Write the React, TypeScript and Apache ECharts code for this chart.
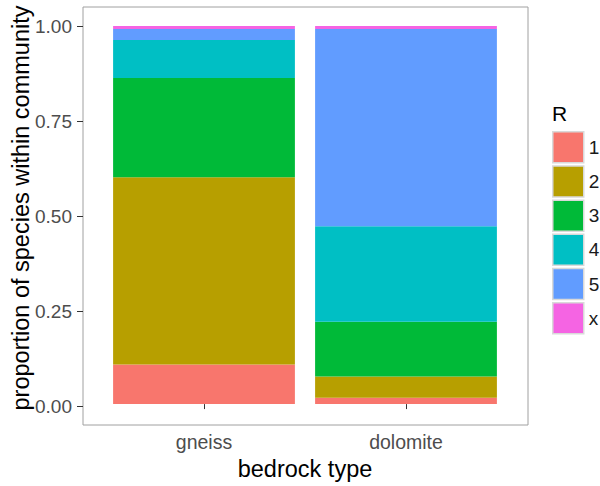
import React, { useEffect, useRef } from "react";
import * as echarts from "echarts";

const categories = ["gneiss", "dolomite"];
const seriesNames = ["1", "2", "3", "4", "5", "x"];
const r1 = [0.105, 0.017];
const r2 = [0.495, 0.056];
const r3 = [0.262, 0.145];
const r4 = [0.101, 0.252];
const r5 = [0.029, 0.522];
const rx = [0.008, 0.008];
const seriesValues = [r1, r2, r3, r4, r5, rx];
const colors = ["#F8766D", "#B79F00", "#00BA38", "#00BFC4", "#619CFF", "#F564E3"];
const yTicks = [0, 0.25, 0.5, 0.75, 1];

export default function App() {
  const ref = useRef<HTMLDivElement>(null);
  useEffect(() => {
    if (!ref.current) return;
    const chart = echarts.init(ref.current, null, { renderer: "svg" });
    const font = "Liberation Sans, Arial, sans-serif";
    chart.setOption({
      animation: false,
      backgroundColor: "#ffffff",
      textStyle: { fontFamily: font },
      grid: [
        { left: 103, top: 7, width: 404, height: 418, show: false },
        {
          left: 83,
          top: 7,
          width: 445,
          height: 418,
          show: true,
          borderColor: "#a0a0a0",
          borderWidth: 1,
          backgroundColor: "transparent",
        },
      ],
      xAxis: [
        {
          type: "category",
          gridIndex: 0,
          data: categories,
          axisLine: { show: false },
          axisTick: { show: true, alignWithLabel: true, length: 5, lineStyle: { color: "#333333" } },
          axisLabel: { fontSize: 19.5, color: "#4d4d4d", margin: 9, fontFamily: font },
          name: "bedrock type",
          nameLocation: "middle",
          nameGap: 34,
          nameTextStyle: { fontSize: 23.5, color: "#000000", fontFamily: font },
        },
        { type: "value", gridIndex: 1, show: false, min: 0, max: 1 },
      ],
      yAxis: [
        { type: "value", gridIndex: 0, show: false, min: -0.05, max: 1.05 },
        {
          type: "value",
          gridIndex: 1,
          min: -0.05,
          max: 1.05,
          axisLine: { show: false },
          splitLine: { show: false },
          axisTick: { show: true, customValues: yTicks, length: 6, lineStyle: { color: "#333333" } },
          axisLabel: {
            customValues: yTicks,
            formatter: (v: number) => v.toFixed(2),
            fontSize: 19,
            color: "#4d4d4d",
            margin: 11,
            fontFamily: font,
          },
        },
      ],
      legend: {
        orient: "vertical",
        left: 552,
        top: 131,
        padding: 0,
        itemWidth: 31,
        itemHeight: 31,
        itemGap: 1.7,
        icon: "rect",
        data: seriesNames,
        textStyle: { fontSize: 19, color: "#1a1a1a", fontFamily: font },
        itemStyle: { borderColor: "#d9d9d9", borderWidth: 1.5 },
      },
      graphic: [
        {
          type: "text",
          left: 552,
          top: 103,
          style: { text: "R", fontSize: 21, fill: "#000000", fontFamily: font },
        },
        {
          type: "text",
          x: 21,
          y: 208,
          rotation: Math.PI / 2,
          style: {
            text: "proportion of species within community",
            fontSize: 23.5,
            fill: "#000000",
            fontFamily: font,
            textAlign: "center",
            textVerticalAlign: "middle",
          },
        },
      ],
      series: seriesNames.map((name, i) => ({
        name,
        type: "bar",
        stack: "total",
        xAxisIndex: 0,
        yAxisIndex: 0,
        barWidth: "90%",
        data: seriesValues[i],
        itemStyle: { color: colors[i] },
      })),
    });
    return () => chart.dispose();
  }, []);
  return (
    <div
      ref={ref}
      style={{ position: "fixed", left: 0, top: 0, width: 600, height: 486 }}
    />
  );
}
